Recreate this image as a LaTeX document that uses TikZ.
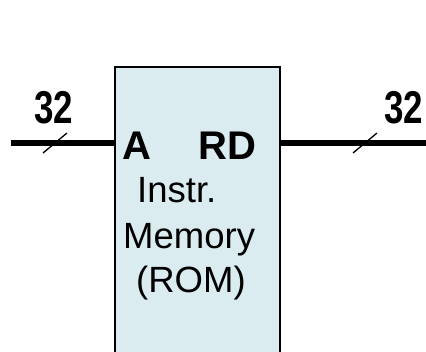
\documentclass[tikz,border=0pt]{standalone}
\usepackage{fontspec}
\setmainfont{Liberation Sans}
\definecolor{romfill}{RGB}{218,236,239}
\begin{document}
\begin{tikzpicture}[x=1pt,y=-1pt,
  bus/.style={line width=6pt},
  slashmark/.style={line width=1.3pt},
  widthlbl/.style={font=\fontsize{46}{46}\selectfont\bfseries,inner sep=0pt,anchor=base west,xscale=0.76},
  portlbl/.style={font=\fontsize{40}{40}\selectfont\bfseries,inner sep=0pt,anchor=base west},
  bodylbl/.style={font=\fontsize{36.5}{36.5}\selectfont,inner sep=0pt,anchor=base west}]
\useasboundingbox (0,0) rectangle (426,351);
\clip (0,0) rectangle (426,351);
\draw[line width=2pt,fill=romfill] (115,67) rectangle (280,370);
\coordinate (inL) at (11,143);
\coordinate (memL) at (115,143);
\coordinate (memR) at (280,143);
\coordinate (outR) at (430,143);
\draw[bus] (inL) -- (memL);
\draw[bus] (memR) -- (outR);
\coordinate (s1a) at (43,153);
\coordinate (s1b) at (67,133);
\coordinate (s2a) at (353,153);
\coordinate (s2b) at (377,133);
\draw[slashmark] (s1a) -- (s1b);
\draw[slashmark] (s2a) -- (s2b);
\node[widthlbl] (w1) at (34,123) {32};
\node[widthlbl] (w2) at (384,123) {32};
\node[portlbl] (a) at (122,159) {A};
\node[portlbl] (rd) at (198,159) {RD};
\node[bodylbl] (l1) at (137,202) {Instr.};
\node[bodylbl] (l2) at (123,248) {Memory};
\node[bodylbl] (l3) at (136,292) {(ROM)};
\end{tikzpicture}
\end{document}
